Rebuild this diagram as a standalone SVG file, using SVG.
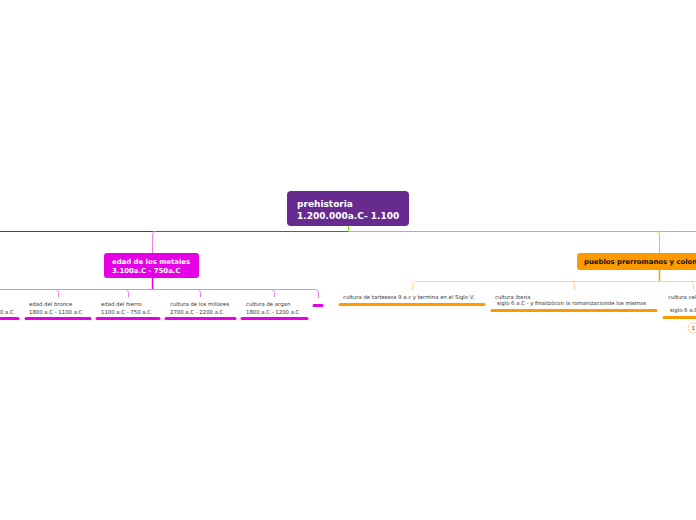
<svg xmlns="http://www.w3.org/2000/svg" width="696" height="520" viewBox="0 0 696 520">
<style>
.t{font-family:"DejaVu Sans","Verdana",sans-serif;fill:#333;font-size:5.35px}
.tb{font-family:"DejaVu Sans","Verdana",sans-serif;font-weight:bold}
.ul{stroke-width:3;stroke-linecap:round;fill:none}
.m{stroke:#e600e6}
.o{stroke:#ff9900}
.ml{stroke:#f080f0;stroke-width:1;fill:none}
.ol{stroke:#ffd49a;stroke-width:1;fill:none}
</style>
<rect width="696" height="520" fill="#ffffff"/>
<g id="connectors">
<line x1="0" y1="231.5" x2="152" y2="231.5" stroke="#5e17eb" stroke-width="1"/>
<line x1="152" y1="231.5" x2="348" y2="231.5" stroke="#e600e6" stroke-width="1"/>
<line x1="348" y1="231.5" x2="696" y2="231.5" stroke="#86e01a" stroke-width="1"/>
<line x1="348.5" y1="226" x2="348.5" y2="231.5" stroke="#86e01a" stroke-width="1"/>
<path d="M152.5,253 V234.5 Q152.5,231.5 155.5,231.5" fill="none" stroke="#f080f0" stroke-width="1"/>
<path d="M659.5,253 V234.5 Q659.5,231.5 656.5,231.5" fill="none" stroke="#ffb040" stroke-width="1"/>
<line x1="152.5" y1="278" x2="152.5" y2="289.5" stroke="#e600e6" stroke-width="1.5"/>
<line x1="659.5" y1="270" x2="659.5" y2="281.5" stroke="#ff9900" stroke-width="1.5"/>
<path class="ml" d="M0,289.5 H315.5 Q318.5,289.5 318.5,292.5 V298"/>
<path class="ml" d="M55.5,289.5 Q58.5,289.5 58.5,292.5 V297"/>
<path class="ml" d="M125.5,289.5 Q128.5,289.5 128.5,292.5 V297"/>
<path class="ml" d="M197.5,289.5 Q200.5,289.5 200.5,292.5 V297"/>
<path class="ml" d="M271.5,289.5 Q274.5,289.5 274.5,292.5 V297"/>
<path class="ol" d="M696,281.5 H415.5 Q412.5,281.5 412.5,284.5 V290"/>
<path class="ol" d="M571.5,281.5 Q574.5,281.5 574.5,284.5 V290"/>
<path class="ol" d="M690.5,281.5 Q693.5,281.5 693.5,284.5 V290"/>
</g>
<g id="root">
<rect x="287" y="191" width="122" height="35" rx="4" fill="#672b8f"/>
<text class="tb" x="297" y="207" font-size="9" fill="#fff">prehistoria</text>
<text class="tb" x="297" y="219" font-size="9" fill="#fff">1.200.000a.C- 1.100</text>
</g>
<g id="metales">
<rect x="104" y="253" width="95" height="25" rx="3" fill="#e600e6"/>
<text class="tb" x="112" y="264" font-size="6.9" fill="#fff">edad de los metales</text>
<text class="tb" x="112" y="273" font-size="6.9" fill="#fff">3.100a.C - 750a.C</text>
</g>
<g id="piedra">
<text class="t" x="0" y="313.5">0 a.C</text>
<line class="ul m" x1="0" y1="318.5" x2="18" y2="318.5"/>
</g>
<g id="bronce">
<text class="t" x="29" y="306">edad del bronce</text>
<text class="t" x="29" y="313.5">1800 a.C - 1100 a.C</text>
<line class="ul m" x1="26" y1="318.5" x2="90" y2="318.5"/>
</g>
<g id="hierro">
<text class="t" x="101" y="306">edad del hierro</text>
<text class="t" x="101" y="313.5">1100 a.C - 750 a.C</text>
<line class="ul m" x1="97" y1="318.5" x2="159" y2="318.5"/>
</g>
<g id="millares">
<text class="t" x="170" y="306">cultura de los millares</text>
<text class="t" x="170" y="313.5">2700 a.C - 2200 a.C</text>
<line class="ul m" x1="166" y1="318.5" x2="235" y2="318.5"/>
</g>
<g id="argan">
<text class="t" x="246" y="306">cultura de argan</text>
<text class="t" x="246" y="313.5">1800 a.C - 1200 a.C</text>
<line class="ul m" x1="242" y1="318.5" x2="307" y2="318.5"/>
</g>
<g id="vacio">
<line class="ul m" x1="314" y1="305.5" x2="322" y2="305.5"/>
</g>
<g id="pueblos">
<rect x="577" y="253" width="130" height="17" rx="3" fill="#ff9900"/>
<text class="tb" x="584" y="264" font-size="6.9" fill="#111">pueblos prerromanos y colonizadores</text>
</g>
<g id="tartessos">
<text class="t" x="343" y="299">cultura de tartessos 9 a.c y termina en el Siglo V.</text>
<line class="ul o" x1="340" y1="304.5" x2="484" y2="304.5"/>
</g>
<g id="iberia">
<text class="t" x="495" y="299">cultura iberia</text>
<text class="t" x="497" y="305">siglo 6 a.C - y finalizócon la romanizacionde los mismos</text>
<line class="ul o" x1="492" y1="310.5" x2="656" y2="310.5"/>
</g>
<g id="celta">
<text class="t" x="668" y="299">cultura celta</text>
<text class="t" x="670" y="312">siglo 6 a.C</text>
<line class="ul o" x1="664" y1="317.5" x2="700" y2="317.5"/>
<circle cx="693" cy="328" r="5" fill="#fff" stroke="#ffd49a" stroke-width="1"/>
<text class="t" x="691.5" y="330" fill="#ffc060">1</text>
</g>
</svg>
